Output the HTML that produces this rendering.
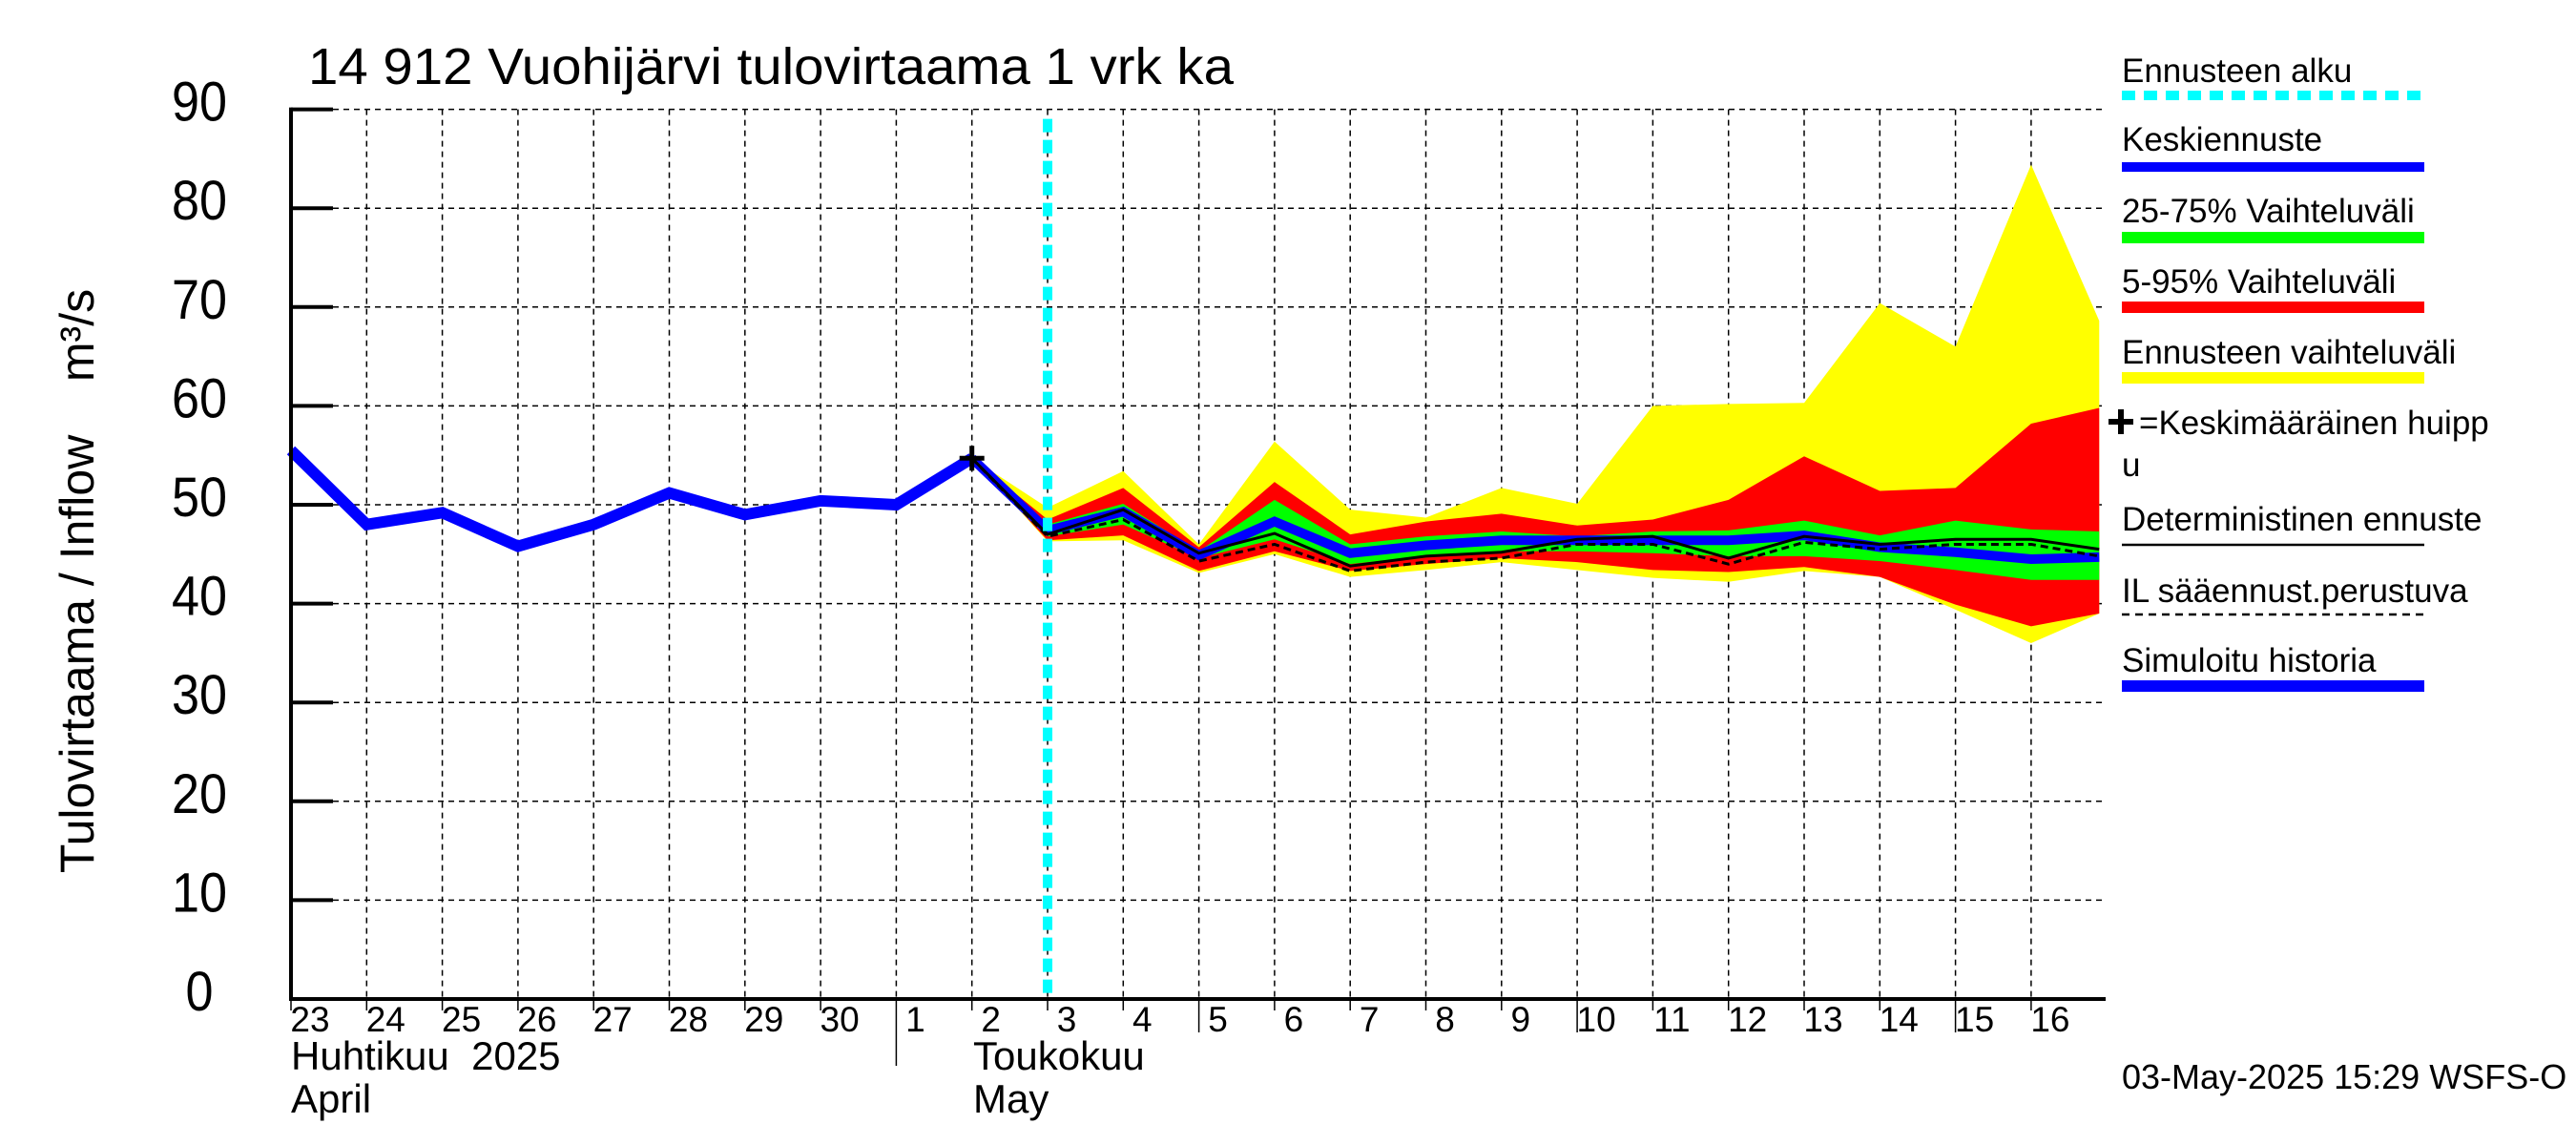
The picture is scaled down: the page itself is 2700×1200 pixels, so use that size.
<!DOCTYPE html>
<html><head><meta charset="utf-8"><style>
html,body{margin:0;padding:0;background:#fff;}
svg{display:block;font-family:"Liberation Sans",sans-serif;}
text{white-space:pre;}
</style></head><body>
<svg id="chart" width="2700" height="1200" viewBox="0 0 2700 1200" xmlns="http://www.w3.org/2000/svg" xml:space="preserve">
<rect x="0" y="0" width="2700" height="1200" fill="#fff"/>
<g id="grid"></g>
<g id="bands"></g>
<g id="lines"></g>
<g id="axes"></g>
<text x="323" y="88" font-size="54" textLength="970" lengthAdjust="spacingAndGlyphs">14 912 Vuohijärvi tulovirtaama 1 vrk ka</text>
<text transform="translate(98,609) rotate(-90)" text-anchor="middle" font-size="50">Tulovirtaama / Inflow    m³/s</text>
<text x="305" y="1121" font-size="42">Huhtikuu  2025</text>
<text x="305" y="1166" font-size="42">April</text>
<text x="1020" y="1121" font-size="42">Toukokuu</text>
<text x="1020" y="1166" font-size="42">May</text>
<text x="2224" y="1141" font-size="36">03-May-2025 15:29 WSFS-O</text>
<g id="legend"></g>
</svg>
<script>
// data
const dayLabels = ["23","24","25","26","27","28","29","30","1","2","3","4","5","6","7","8","9","10","11","12","13","14","15","16"];
const yTicks = [0,10,20,30,40,50,60,70,80,90];
const histValues = [55.5,48,49.2,45.8,48,51.2,49,50.4,50,54.7];
// forecast indexes: day 2 (idx 9) .. day 16 (idx 23) + right edge (23.9)
const fcIdx = [9,10,11,12,13,14,15,16,17,18,19,20,21,22,23,23.9];
const yellowTop = [54.7,49.7,53.4,46,56.4,49.5,48.7,51.7,50.1,60,60.2,60.3,70.4,66,84.4,68.6];
const redTop    = [54.7,48.5,51.7,45.7,52.3,47,48.3,49.1,47.9,48.5,50.5,54.9,51.4,51.7,58.2,59.8];
const greenTop  = [54.7,48,50.1,45.3,50.5,46,46.8,47.3,46.8,47.3,47.4,48.4,46.9,48.4,47.5,47.3];
const meanVals  = [54.7,47.4,49.3,44.9,48.3,45.1,45.9,46.4,46.4,46.4,46.4,46.9,45.7,45.2,44.5,44.7];
const greenBot  = [54.7,46.8,48,44.6,46.5,44,44.8,45.3,45.3,45.1,44.8,44.8,44.3,43.4,42.4,42.4];
const redBot    = [54.7,46.4,46.9,43.3,45.3,43.3,44,44.6,44.2,43.4,43.2,43.7,42.7,39.9,37.7,39];
const yellowBot = [54.7,46.3,46.4,43.1,45,42.7,43.4,44.2,43.4,42.6,42.2,43.3,42.7,39.4,36,39];
const detVals   = [54.7,47,49.5,45.1,47.1,43.8,44.8,45.2,46.5,46.8,44.6,46.8,46,46.5,46.5,45.5];
const ilVals    = [54.7,46.8,48.5,44.3,46,43.3,44.2,44.6,46,46,44,46.2,45.5,46,46,44.8];
const peakIdx = 9, peakVal = 54.7, forecastStartIdx = 10;

const X0=305, DX=79.3, XR=2207, Y0=1047, DY=10.36;
const xs = i => X0 + i*DX;
const ys = v => Y0 - v*DY;
const NS="http://www.w3.org/2000/svg";
function mk(tag, attrs, parent){const e=document.createElementNS(NS,tag);for(const k in attrs)e.setAttribute(k,attrs[k]);parent.appendChild(e);return e;}
const grid=document.getElementById('grid'), bands=document.getElementById('bands'), lines=document.getElementById('lines'), axes=document.getElementById('axes'), legend=document.getElementById('legend');

// grid
dayLabels.forEach((d,i)=>{ if(i===0) return;
  const l=mk('line',{x1:xs(i),x2:xs(i),y1:ys(90),y2:Y0,stroke:'#000','stroke-width':1.5,'stroke-dasharray':'6,5'},grid);
   
});
yTicks.forEach(v=>{ if(v===0) return;
  const l=mk('line',{x1:X0,x2:XR,y1:ys(v),y2:ys(v),stroke:'#000','stroke-width':1.5,'stroke-dasharray':'6,5'},grid);
   
});

// bands
function band(top,bot,color,name){
  let pts=fcIdx.map((i,k)=>xs(i)+','+ys(top[k]));
  for(let k=fcIdx.length-1;k>=0;k--) pts.push(xs(fcIdx[k])+','+ys(bot[k]));
  const p=mk('polygon',{points:pts.join(' '),fill:color},bands);
   
}
band(yellowTop,yellowBot,'#ffff00','band-forecast-range');
band(redTop,redBot,'#ff0000','band-5-95');
band(greenTop,greenBot,'#00ff00','band-25-75');

function pl(idx,vals,attrs,name){
  const p=mk('polyline',Object.assign({points:idx.map((i,k)=>xs(i)+','+ys(vals[k])).join(' '),fill:'none','stroke-linejoin':'miter'},attrs),lines);
   
}
pl(fcIdx,meanVals,{stroke:'#0000ff','stroke-width':10},'mean-forecast-line');
pl(histValues.map((v,i)=>i),histValues,{stroke:'#0000ff','stroke-width':12},'simulated-history-line');
pl(fcIdx,ilVals,{stroke:'#000','stroke-width':3,'stroke-dasharray':'8,5'},'il-forecast-line');
pl(fcIdx,detVals,{stroke:'#000','stroke-width':3},'deterministic-forecast-line');

// forecast start
const cy=mk('line',{x1:xs(forecastStartIdx),x2:xs(forecastStartIdx),y1:ys(90)+10,y2:Y0,stroke:'#00ffff','stroke-width':10,'stroke-dasharray':'14,8'},lines);
 

// peak marker
const pk=mk('path',{d:`M${xs(peakIdx)-13},${ys(peakVal)} h26 M${xs(peakIdx)},${ys(peakVal)-13} v26`,stroke:'#000','stroke-width':5},lines);
 

// axes
const ax1=mk('line',{x1:X0,x2:X0,y1:ys(90)-2,y2:Y0+2,stroke:'#000','stroke-width':4},axes);
 
const ax2=mk('line',{x1:X0,x2:XR,y1:Y0,y2:Y0,stroke:'#000','stroke-width':4},axes);
 
yTicks.forEach(v=>{
  const t=mk('line',{x1:X0,x2:X0+44,y1:ys(v),y2:ys(v),stroke:'#000','stroke-width':4},axes);
   
  const s=String(v);
  const tx=mk('text',{x:209-s.length*14.5,y:ys(v)+12,'font-size':58,textLength:s.length*29,lengthAdjust:'spacingAndGlyphs'},axes);
  tx.textContent=s;
   
});
dayLabels.forEach((d,i)=>{
  const long = (d==='1'||d==='5'||d==='10'||d==='15');
  const t=mk('line',{x1:xs(i),x2:xs(i),y1:Y0,y2:Y0+(d==='1'?70:(long?35:12)),stroke:'#000','stroke-width':1.5},axes);
   
  const tx=mk('text',{x:xs(i)+20,y:1081,'text-anchor':'middle','font-size':37},axes);
  tx.textContent=d;
   
});

// legend
const LX=2224, LX2=2541;
const legItems=[
 {t:'Ennusteen alku',ty:73,ly:100,c:'#00ffff',w:10,dash:'14,9'},
 {t:'Keskiennuste',ty:145,ly:175,c:'#0000ff',w:10},
 {t:'25-75% Vaihteluväli',ty:220,ly:249,c:'#00ff00',w:12},
 {t:'5-95% Vaihteluväli',ty:294,ly:322,c:'#ff0000',w:12},
 {t:'Ennusteen vaihteluväli',ty:368,ly:396,c:'#ffff00',w:12},
 {t:'=Keskimääräinen huipp',ty:442,ly:null},
 {t:'Deterministinen ennuste',ty:543,ly:571,c:'#000',w:2.5},
 {t:'IL sääennust.perustuva',ty:618,ly:644,c:'#000',w:2.5,dash:'8,6'},
 {t:'Simuloitu historia',ty:691,ly:719,c:'#0000ff',w:12}
];
legItems.forEach(it=>{
  const tx=mk('text',{x:it.ly===null?LX+18:LX,y:it.ty+13,'font-size':35},legend);
  tx.textContent=it.t;
   
  if(it.ly!==null){
    const a={x1:LX,x2:LX2,y1:it.ly,y2:it.ly,stroke:it.c,'stroke-width':it.w};
    if(it.dash)a['stroke-dasharray']=it.dash;
    const l=mk('line',a,legend);
     
  }
});
const lp=mk('path',{d:`M${LX-14},442 h26 M${LX-1},429 v26`,stroke:'#000','stroke-width':6},legend);
 
const lu=mk('text',{x:LX,y:499,'font-size':35},legend);
lu.textContent='u';
 
</script>
</body></html>
